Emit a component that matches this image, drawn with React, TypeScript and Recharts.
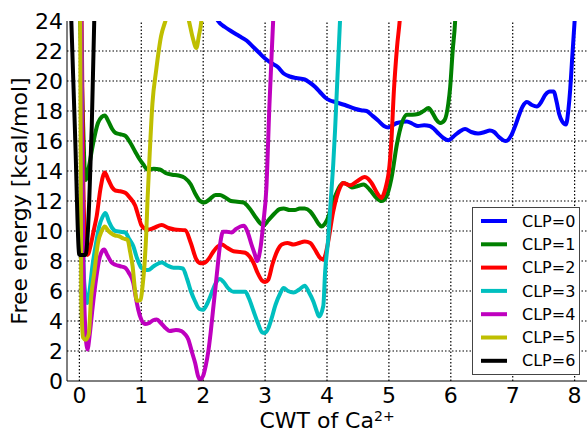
import { LineChart, Line, XAxis, YAxis, ReferenceLine, Legend, Label } from "recharts";

const xTicks = [0, 1, 2, 3, 4, 5, 6, 7, 8];
const yTicks = [0, 2, 4, 6, 8, 10, 12, 14, 16, 18, 20, 22, 24];

const seriesNames = ["CLP=0", "CLP=1", "CLP=2", "CLP=3", "CLP=4", "CLP=5", "CLP=6"];
const seriesColors = ["#0000ff", "#008000", "#ff0000", "#00bfbf", "#bf00bf", "#bfbf00", "#000000"];

// [CWT, free energy] pairs
const clp0: [number, number][] = [
  [2.1, 25.5], [2.24, 24.0], [2.35, 23.6], [2.46, 23.3], [2.58, 23.0], [2.7, 22.7], [2.8, 22.3], [2.9, 21.9],
  [3.0, 21.5], [3.1, 21.2], [3.2, 20.95], [3.3, 20.5], [3.4, 20.3], [3.5, 20.2], [3.64, 20.1], [3.72, 19.9],
  [3.81, 19.6], [3.9, 19.2], [3.97, 18.9], [4.05, 18.7], [4.13, 18.6], [4.29, 18.4], [4.45, 18.15], [4.55, 18.05],
  [4.64, 18.0], [4.73, 17.7], [4.83, 17.35], [4.92, 17.0], [4.99, 16.9], [5.06, 17.05], [5.13, 17.2], [5.29, 17.3],
  [5.38, 17.15], [5.47, 17.0], [5.57, 17.05], [5.66, 17.0], [5.73, 16.8], [5.8, 16.5], [5.88, 16.2], [5.96, 16.05],
  [6.07, 16.4], [6.15, 16.65], [6.23, 16.8], [6.33, 16.6], [6.44, 16.5], [6.55, 16.6], [6.63, 16.7], [6.7, 16.6],
  [6.77, 16.3], [6.89, 16.0], [6.98, 16.4], [7.04, 17.0], [7.1, 17.7], [7.16, 18.3], [7.23, 18.6], [7.31, 18.4],
  [7.39, 18.3], [7.46, 18.6], [7.53, 19.1], [7.6, 19.3], [7.66, 19.3], [7.71, 18.6], [7.75, 17.8], [7.8, 17.3],
  [7.86, 17.1], [7.9, 18.1], [7.93, 19.5], [7.96, 21.5], [8.0, 24.0], [8.05, 27.5],
];
const clp1: [number, number][] = [
  [0.0, 26], [0.05, 18.5], [0.1, 13.4], [0.15, 14.2], [0.22, 15.8], [0.3, 17.2], [0.36, 17.6], [0.41, 17.7],
  [0.47, 17.3], [0.53, 16.8], [0.58, 16.55], [0.66, 16.45], [0.74, 16.35], [0.82, 15.9], [0.9, 15.3], [0.97, 14.8],
  [1.03, 14.45], [1.1, 14.1], [1.2, 14.15], [1.3, 14.1], [1.4, 13.85], [1.5, 13.75], [1.6, 13.7], [1.7, 13.55],
  [1.8, 13.1], [1.87, 12.5], [1.95, 12.0], [2.02, 11.9], [2.1, 12.1], [2.2, 12.4], [2.27, 12.4], [2.35, 12.25],
  [2.45, 12.0], [2.55, 11.95], [2.65, 11.9], [2.75, 11.5], [2.85, 10.9], [2.94, 10.45], [2.98, 10.4], [3.05, 10.7],
  [3.16, 11.2], [3.23, 11.45], [3.3, 11.5], [3.4, 11.4], [3.48, 11.4], [3.56, 11.5], [3.64, 11.5], [3.73, 11.3],
  [3.8, 10.9], [3.86, 10.5], [3.91, 10.3], [3.96, 10.45], [3.99, 10.65], [4.05, 11.3], [4.1, 12.0], [4.16, 12.6],
  [4.21, 13.0], [4.26, 13.2], [4.33, 13.1], [4.4, 12.9], [4.5, 13.0], [4.59, 13.1], [4.69, 12.75], [4.8, 12.2],
  [4.88, 12.0], [4.96, 12.3], [5.04, 13.5], [5.13, 15.8], [5.21, 17.2], [5.29, 17.75], [5.38, 17.75], [5.47, 17.8],
  [5.56, 18.0], [5.64, 18.2], [5.7, 17.9], [5.77, 17.4], [5.83, 17.2], [5.9, 17.4], [5.96, 18.5], [5.99, 19.6],
  [6.03, 22.0], [6.07, 24.0], [6.1, 27.0],
];
const clp2: [number, number][] = [
  [0.0, 40], [0.06, 14], [0.1, 8.8], [0.13, 8.4], [0.18, 9.0], [0.23, 10.0], [0.28, 11.0], [0.34, 12.8],
  [0.41, 13.9], [0.47, 13.4], [0.53, 12.9], [0.58, 12.7], [0.66, 12.65], [0.74, 12.55], [0.82, 12.2], [0.9, 11.7],
  [0.96, 10.9], [1.0, 10.4], [1.06, 10.15], [1.11, 10.1], [1.2, 10.2], [1.33, 10.4], [1.44, 10.2], [1.54, 10.1],
  [1.71, 10.05], [1.8, 9.2], [1.89, 8.1], [1.96, 7.85], [2.03, 7.9], [2.1, 8.2], [2.16, 8.6], [2.23, 8.95],
  [2.3, 9.1], [2.38, 8.9], [2.49, 8.65], [2.6, 8.6], [2.68, 8.55], [2.75, 8.3], [2.81, 7.9], [2.88, 7.2],
  [2.95, 6.7], [3.0, 6.6], [3.05, 6.75], [3.12, 7.8], [3.2, 8.7], [3.27, 9.1], [3.36, 9.2], [3.46, 9.1],
  [3.55, 9.2], [3.64, 9.3], [3.73, 9.2], [3.8, 8.8], [3.89, 8.2], [3.94, 8.1], [3.98, 8.5], [4.02, 9.3],
  [4.1, 11.3], [4.16, 12.3], [4.21, 12.9], [4.26, 13.2], [4.37, 13.05], [4.48, 13.3], [4.61, 13.6], [4.66, 13.5],
  [4.72, 13.2], [4.83, 12.4], [4.88, 12.2], [4.92, 12.5], [4.96, 13.1], [5.0, 14.0], [5.04, 16.0], [5.08, 19.3],
  [5.13, 22.2], [5.18, 24.3], [5.22, 27],
];
const clp3: [number, number][] = [
  [0.0, 40], [0.05, 12], [0.08, 6.5], [0.13, 5.2], [0.17, 6.2], [0.21, 7.65], [0.27, 9.2], [0.32, 10.3],
  [0.37, 10.9], [0.42, 11.2], [0.48, 10.6], [0.53, 10.2], [0.58, 10.0], [0.66, 9.95], [0.74, 9.9], [0.8, 9.5],
  [0.87, 9.0], [0.93, 8.2], [1.0, 7.55], [1.06, 7.4], [1.11, 7.4], [1.2, 7.65], [1.33, 7.9], [1.42, 7.7],
  [1.52, 7.55], [1.6, 7.55], [1.67, 7.5], [1.74, 6.8], [1.8, 6.0], [1.87, 5.3], [1.94, 4.8], [2.0, 4.75],
  [2.07, 5.2], [2.14, 5.9], [2.2, 6.5], [2.27, 6.8], [2.33, 6.6], [2.4, 6.2], [2.49, 5.95], [2.58, 5.95],
  [2.68, 5.95], [2.74, 5.5], [2.81, 4.7], [2.88, 3.9], [2.95, 3.25], [2.99, 3.2], [3.05, 3.5], [3.1, 4.1],
  [3.17, 5.1], [3.24, 5.8], [3.3, 6.2], [3.37, 6.0], [3.46, 5.9], [3.55, 6.1], [3.64, 6.35], [3.71, 5.9],
  [3.78, 5.3], [3.83, 4.7], [3.87, 4.3], [3.94, 5.0], [3.97, 7.3], [4.02, 9.5], [4.06, 12.0], [4.1, 14.4],
  [4.13, 16.7], [4.21, 24], [4.25, 27],
];
const clp4: [number, number][] = [
  [0.0, 40], [0.05, 12], [0.09, 4.0], [0.13, 2.1], [0.17, 3.2], [0.21, 4.77], [0.27, 6.8], [0.32, 8.1],
  [0.36, 8.6], [0.4, 8.76], [0.45, 8.4], [0.52, 7.9], [0.58, 7.75], [0.66, 7.65], [0.74, 7.55], [0.8, 7.2],
  [0.87, 6.55], [0.91, 5.6], [0.95, 4.77], [1.0, 4.1], [1.06, 3.8], [1.12, 3.85], [1.19, 4.05], [1.25, 4.1],
  [1.32, 3.85], [1.4, 3.5], [1.46, 3.33], [1.56, 3.4], [1.65, 3.33], [1.71, 3.1], [1.76, 2.77], [1.82, 1.9],
  [1.87, 1.2], [1.92, 0.3], [1.95, 0.1], [2.0, 0.35], [2.04, 1.0], [2.08, 1.9], [2.12, 3.2], [2.16, 4.77],
  [2.2, 6.3], [2.24, 7.9], [2.28, 9.3], [2.32, 9.95], [2.38, 9.95], [2.46, 9.9], [2.52, 10.1], [2.6, 10.3],
  [2.66, 10.35], [2.72, 9.9], [2.78, 9.1], [2.83, 8.5], [2.87, 8.0], [2.93, 9.0], [2.97, 10.5], [3.02, 12.8],
  [3.07, 18.4], [3.13, 24], [3.17, 28],
];
const clp5: [number, number][] = [
  [0.0, 40], [0.03, 5.5], [0.06, 2.9], [0.1, 2.75], [0.15, 3.1], [0.19, 5.6], [0.24, 7.2], [0.3, 9.2],
  [0.36, 10.0], [0.41, 10.3], [0.47, 10.0], [0.53, 9.8], [0.58, 9.7], [0.64, 9.65], [0.71, 9.5], [0.78, 9.4],
  [0.82, 8.6], [0.86, 7.65], [0.9, 6.0], [0.93, 5.35], [0.99, 5.4], [1.02, 6.3], [1.05, 7.65], [1.08, 9.8],
  [1.1, 12.0], [1.14, 15.5], [1.18, 18.5], [1.24, 20.7], [1.32, 23.0], [1.39, 24], [1.5, 25.5], [1.65, 25.5],
  [1.77, 24], [1.83, 22.9], [1.89, 22.2], [1.93, 23.0], [1.97, 24], [2.02, 27],
];
const clp6: [number, number][] = [
  [-0.2, 32], [-0.13, 24], [-0.07, 16.5], [0.0, 8.4], [0.1, 8.4], [0.13, 9.5], [0.16, 12.1], [0.2, 17],
  [0.24, 24], [0.27, 28],
];

const curves = [clp0, clp1, clp2, clp3, clp4, clp5, clp6];

const FONT = "'DejaVu Sans', 'Liberation Sans', sans-serif";
const tickStyle = { fontSize: 22, fill: "#000", fontFamily: FONT };
const gridStyle = { stroke: "#000", strokeDasharray: "1.5 2", strokeWidth: 1.2 };

function LegendBox() {
  return (
    <svg width={108} height={168} style={{ display: "block" }}>
      <rect x={0.5} y={0.5} width={107} height={167} fill="#fff" stroke="#444" />
      {seriesNames.map((name, i) => {
        const cy = 14 + 23.3 * i;
        return (
          <g key={name}>
            <line x1={9} x2={35} y1={cy} y2={cy} stroke={seriesColors[i]} strokeWidth={4} />
            <text x={50} y={cy} dy="0.35em" fontSize={16} fontFamily={FONT} fill="#000">
              {name}
            </text>
          </g>
        );
      })}
    </svg>
  );
}

export default function App() {
  return (
    <div style={{ position: "absolute", left: 0, top: 0, width: 588, height: 433, background: "#fff" }}>
      <LineChart width={588} height={433} margin={{ top: 21, right: 1, left: 7, bottom: 22 }}>
        <XAxis
          dataKey="x"
          type="number"
          domain={[-0.2, 8.2]}
          ticks={xTicks}
          interval={0}
          allowDataOverflow
          height={30}
          tickSize={0}
          tickMargin={6}
          tickLine={false}
          axisLine={{ stroke: "#000", strokeWidth: 1 }}
          tick={tickStyle}
        >
          <Label
            content={({ viewBox }: any) => (
              <text x={viewBox.x + viewBox.width / 2} y={428} textAnchor="middle" fontSize={22} fontFamily={FONT} fill="#000">
                CWT of Ca
                <tspan dy={-7} fontSize={14}>2+</tspan>
              </text>
            )}
          />
        </XAxis>
        <XAxis
          xAxisId="top"
          orientation="top"
          type="number"
          domain={[-0.2, 8.2]}
          height={0}
          tick={false}
          tickLine={false}
          axisLine={{ stroke: "#000", strokeWidth: 1 }}
        />
        <YAxis
          type="number"
          domain={[0, 24]}
          ticks={yTicks}
          interval={0}
          allowDataOverflow
          width={60}
          tickSize={0}
          tickMargin={4}
          tickLine={false}
          axisLine={{ stroke: "#000", strokeWidth: 1 }}
          tick={tickStyle}
        >
          <Label
            content={({ viewBox }: any) => {
              const cx = viewBox.x + 20;
              const cy = viewBox.y + viewBox.height / 2;
              return (
                <text x={cx} y={cy} transform={`rotate(-90, ${cx}, ${cy})`} textAnchor="middle" fontSize={22} fontFamily={FONT} fill="#000">
                  Free energy [kcal/mol]
                </text>
              );
            }}
          />
        </YAxis>
        <YAxis
          yAxisId="right"
          orientation="right"
          type="number"
          domain={[0, 24]}
          width={0}
          tick={false}
          tickLine={false}
          axisLine={{ stroke: "#000", strokeWidth: 1 }}
        />
        {yTicks.slice(1, -1).map((t) => (
          <ReferenceLine key={`gy${t}`} y={t} {...gridStyle} />
        ))}
        {xTicks.map((t) => (
          <ReferenceLine key={`gx${t}`} x={t} {...gridStyle} />
        ))}
        <Legend
          layout="vertical"
          align="center"
          verticalAlign="middle"
          content={() => <LegendBox />}
          wrapperStyle={{ left: 472, top: 207, width: 108, height: 168 }}
        />
        {curves.map((pts, i) => (
          <Line
            key={seriesNames[i]}
            name={seriesNames[i]}
            data={pts.map(([x, y]) => ({ x, y }))}
            dataKey="y"
            type="monotone"
            stroke={seriesColors[i]}
            strokeWidth={4}
            dot={false}
            activeDot={false}
            isAnimationActive={false}
          />
        ))}
      </LineChart>
    </div>
  );
}
